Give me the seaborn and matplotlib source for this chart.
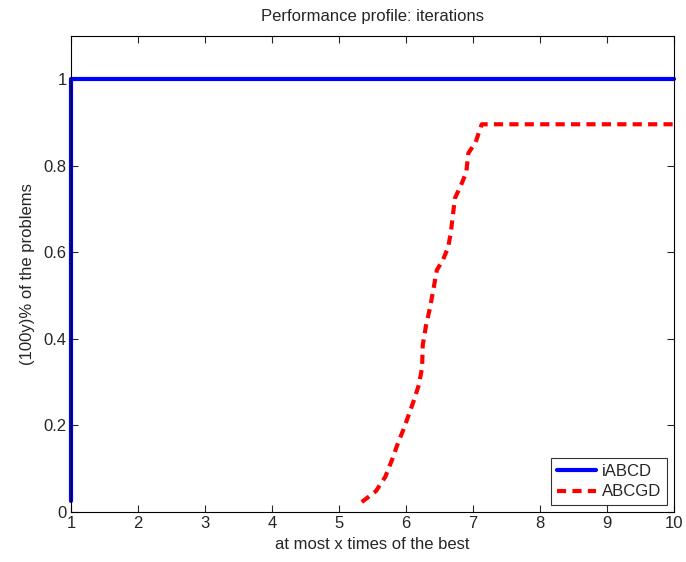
import matplotlib
matplotlib.use("Agg")
import matplotlib.pyplot as plt
import seaborn as sns
import pandas as pd

# iABCD: best on every problem
iabcd_x = [1.0, 1.0, 10.0]
iabcd_y = [0.025, 1.0, 1.0]

# ABCGD: ratios
abcgd_x = [5.34, 5.55, 5.69, 5.79, 5.87, 5.96, 6.04, 6.12, 6.19, 6.24, 6.25,
           6.30, 6.36, 6.42, 6.46, 6.55, 6.63, 6.67, 6.70, 6.73, 6.82, 6.90,
           6.93, 7.04, 7.13, 10.0]
abcgd_y = [0.023, 0.048, 0.081, 0.12, 0.155, 0.19, 0.224, 0.259, 0.293, 0.333,
           0.386, 0.432, 0.473, 0.524, 0.559, 0.582, 0.612, 0.647, 0.686, 0.725,
           0.755, 0.785, 0.829, 0.855, 0.896, 0.896]

x_ticks = [1, 2, 3, 4, 5, 6, 7, 8, 9, 10]
y_ticks = [0, 0.2, 0.4, 0.6, 0.8, 1]
y_labels = ["0", "0.2", "0.4", "0.6", "0.8", "1"]

sns.set_style("ticks")
plt.rcParams['font.family'] = ['Liberation Sans', 'DejaVu Sans']
plt.rcParams['xtick.direction'] = 'in'
plt.rcParams['ytick.direction'] = 'in'

df_a = pd.DataFrame({'x': iabcd_x, 'y': iabcd_y})
df_b = pd.DataFrame({'x': abcgd_x, 'y': abcgd_y})

fig = plt.figure(figsize=(6.86, 5.62), dpi=100)
ax = fig.add_axes([71 / 686, 50 / 562, 603 / 686, 476 / 562])

# estimator=None keeps the vertical jump at x = 1
sns.lineplot(data=df_a, x='x', y='y', sort=False, estimator=None,
             color='#0000ff', linewidth=3, label='iABCD', ax=ax, clip_on=False)
sns.lineplot(data=df_b, x='x', y='y', sort=False, estimator=None,
             color='#ff0000', linewidth=3, linestyle=(0, (2.2, 1.5)),
             label='ABCGD', ax=ax)

ax.set_xlim(1, 10)
ax.set_ylim(0, 1.1)
ax.set_xticks(x_ticks)
ax.set_yticks(y_ticks)
ax.set_yticklabels(y_labels)
ax.tick_params(labelsize=12, length=5, width=0.8, top=True, right=True, pad=3)
for s in ax.spines.values():
    s.set_visible(True)
    s.set_linewidth(0.8)
    s.set_color('black')

ax.set_title('Performance profile: iterations', fontsize=12, pad=11)
ax.set_xlabel('at most x times of the best', fontsize=12, labelpad=4)
ax.set_ylabel('(100y)% of the problems', fontsize=12, labelpad=6)

leg = ax.legend(loc='lower right', fontsize=12, frameon=True, fancybox=False,
                edgecolor='black', handlelength=2.3, borderaxespad=0.4,
                borderpad=0.35, labelspacing=0.35, handletextpad=0.4)
leg.get_frame().set_linewidth(0.8)

fig.savefig('out.png', dpi=100)
